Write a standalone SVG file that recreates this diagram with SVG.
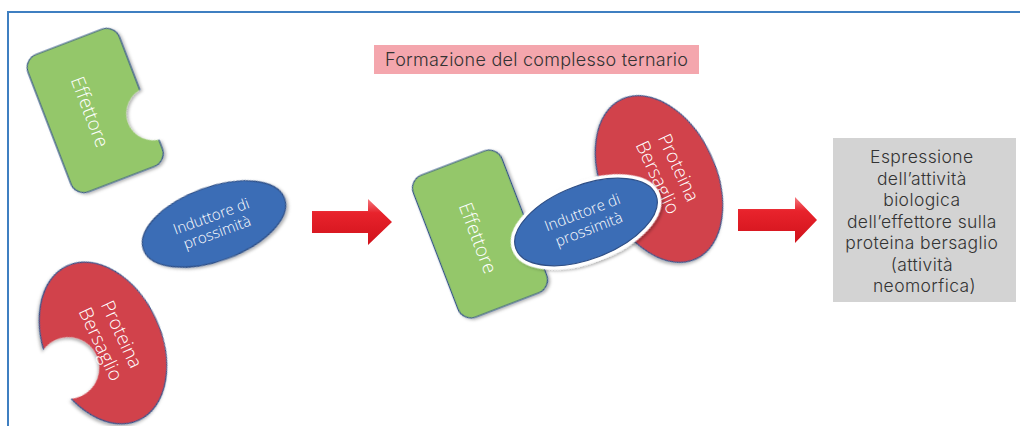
<svg xmlns="http://www.w3.org/2000/svg" width="1020" height="426" viewBox="0 0 1020 426">
<style>
.lbl{font-family:"Open Sans","Liberation Sans",sans-serif;font-weight:300;fill:#ffffff;text-anchor:middle}
.green{fill:#94c76b;stroke:#2f4f86;stroke-width:1.2}
.red{fill:#d1434c;stroke:#2f4f86;stroke-width:1.2}
.blue{fill:#3b6db6;stroke:#2f4f86;stroke-width:1.2}
.box{font-family:Inter,"Open Sans","Liberation Sans",sans-serif;font-weight:300;fill:#333333;text-anchor:middle}
.arrow{fill:url(#ag)}
</style>
<defs>
<filter id="sh" x="-20%" y="-20%" width="140%" height="140%">
<feDropShadow dx="1.5" dy="2" stdDeviation="1.6" flood-color="#000" flood-opacity="0.3"/>
</filter>
<linearGradient id="ag" x1="0" y1="0" x2="0" y2="1">
<stop offset="0" stop-color="#f47a80"/>
<stop offset="0.3" stop-color="#e8232c"/>
<stop offset="1" stop-color="#d0121b"/>
</linearGradient>
<mask id="m1" maskUnits="userSpaceOnUse" x="-120" y="-120" width="240" height="240">
<rect x="-120" y="-120" width="240" height="240" fill="#fff"/>
<circle cx="53" cy="24" r="27" fill="#000"/>
</mask>
<mask id="m2" maskUnits="userSpaceOnUse" x="-120" y="-120" width="240" height="240">
<rect x="-120" y="-120" width="240" height="240" fill="#fff"/>
<circle cx="8" cy="42" r="31" fill="#000"/>
</mask>
</defs>

<rect width="1020" height="426" fill="#ffffff"/>
<path d="M8,426 V12 H1020" fill="none" stroke="#3f7fc1" stroke-width="2"/>

<g id="title">
<rect x="374" y="45" width="325" height="29" fill="#f4a6ad"/>
<text x="536.5" y="66" class="box" font-size="18" font-weight="400" textLength="303" lengthAdjust="spacing">Formazione del complesso ternario</text>
</g>

<g id="effettore-1" transform="translate(95,110) rotate(-21)">
<g filter="url(#sh)"><rect x="-49" y="-73" width="98" height="147" rx="14" class="green" mask="url(#m1)"/></g>
<text class="lbl" font-size="19" transform="translate(-5,0) rotate(90)" y="7">Effettore</text>
</g>

<g id="proteina-1" transform="translate(103,343) rotate(65)">
<g filter="url(#sh)"><ellipse rx="85" ry="58" class="red" mask="url(#m2)"/></g>
<text class="lbl" font-size="19"><tspan x="0" y="-14">Proteina</tspan><tspan x="0" y="9">Bersaglio</tspan></text>
</g>

<g id="induttore-1" transform="translate(214,224) rotate(-20)">
<ellipse rx="75" ry="37" class="blue" filter="url(#sh)"/>
<text class="lbl" font-size="15"><tspan x="0" y="-3">Induttore di</tspan><tspan x="0" y="14">prossimità</tspan></text>
</g>

<g id="effettore-2" transform="translate(480,234) rotate(-21)">
<rect x="-47.5" y="-76" width="95" height="152" rx="14" class="green" filter="url(#sh)"/>
<text class="lbl" font-size="19" transform="translate(-3,3) rotate(90)" y="7">Effettore</text>
</g>

<g id="proteina-2" transform="translate(659,179) rotate(65)">
<ellipse rx="88" ry="57" class="red" filter="url(#sh)"/>
<text class="lbl" font-size="19"><tspan x="-2" y="-16">Proteina</tspan><tspan x="-2" y="7">Bersaglio</tspan></text>
</g>

<g id="induttore-2" transform="translate(586,222) rotate(-21)">
<ellipse rx="75" ry="37" fill="#ffffff" stroke="#ffffff" stroke-width="8" filter="url(#sh)"/>
<ellipse rx="75" ry="37" class="blue"/>
<text class="lbl" font-size="15"><tspan x="0" y="-5">Induttore di</tspan><tspan x="0" y="13">prossimità</tspan></text>
</g>

<g id="risultato">
<rect x="833" y="138" width="183" height="164" fill="#d3d3d3"/>
<text class="box" font-size="17.5" letter-spacing="0.4">
<tspan x="924.5" y="163">Espressione</tspan>
<tspan x="924.5" y="184.5">dell’attività</tspan>
<tspan x="924.5" y="206">biologica</tspan>
<tspan x="924.5" y="227.5">dell’effettore sulla</tspan>
<tspan x="924.5" y="249">proteina bersaglio</tspan>
<tspan x="924.5" y="270.5">(attività</tspan>
<tspan x="924.5" y="292">neomorfica)</tspan>
</text>
</g>

<g id="connectors">
<path class="arrow" d="M312,211 H368 V199 L392,222 L368,245 V233 H312 Z"/>
<path class="arrow" d="M738,209 H795 V197 L817,220 L795,243 V231 H738 Z"/>
</g>
</svg>
